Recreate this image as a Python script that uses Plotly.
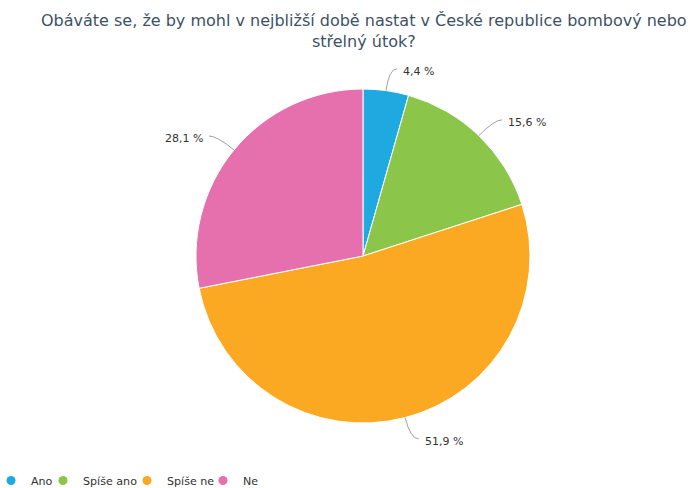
import math
import plotly.graph_objects as go

categories = ["Ano", "Spíše ano", "Spíše ne", "Ne"]
values = [4.4, 15.6, 51.9, 28.1]
colors = ["#1eaae1", "#8bc54a", "#fba922", "#e66fad"]
label_texts = ["4,4 %", "15,6 %", "51,9 %", "28,1 %"]
legend_widths = [16, 48, 40, 20]

W, H = 690, 488
MB = 30                      # bottom margin (legend lives there)
PH = H - MB                  # plot-area height in px
CX, CY, R = 363, 256, 167    # pie centre / radius in px
D = 22                       # connector distance

fig = go.Figure()
fig.add_trace(go.Pie(
    labels=categories, values=values, sort=False, direction="clockwise",
    rotation=0, marker=dict(colors=colors, line=dict(color="white", width=1)),
    textinfo="none", hoverinfo="label+percent", showlegend=False,
    domain=dict(x=[(CX - R) / W, (CX + R) / W], y=[1 - (CY + R) / PH, 1 - (CY - R) / PH]),
))

for cat, col, lw in zip(categories, colors, legend_widths):
    fig.add_trace(go.Scatter(x=[None], y=[None], mode="markers", name=cat,
                             legendwidth=lw,
                             marker=dict(color=col, size=9, symbol="circle")))

def px(x, y):
    return x / W, 1 - y / PH

shapes, annotations = [], []
total = sum(values)
cum = 0
for v, txt in zip(values, label_texts):
    mid = (cum + v / 2) / total * 2 * math.pi
    cum += v
    s, c = math.sin(mid), math.cos(mid)
    x0, y0 = CX + R * s, CY - R * c
    x1, y1 = CX + (R + D) * s, CY - (R + D) * c
    side = 1 if s >= 0 else -1
    x2 = x1 + side * 8
    p0, p1, p2 = px(x0, y0), px(x1, y1), px(x2, y1)
    shapes.append(dict(type="path", xref="paper", yref="paper",
                       path=f"M {p0[0]},{p0[1]} Q {p1[0]},{p1[1]} {p2[0]},{p2[1]}",
                       line=dict(color="#a0a0a0", width=1)))
    lx, ly = px(x2 + side * 4, y1 + 3)
    annotations.append(dict(x=lx, y=ly, xref="paper", yref="paper", text=txt,
                            showarrow=False, xanchor="left" if side > 0 else "right",
                            yanchor="middle",
                            font=dict(family="DejaVu Sans", size=11, color="#333333")))

tx, ty = px(364, 9)
annotations.append(dict(
    x=tx, y=ty, xref="paper", yref="paper", showarrow=False,
    xanchor="center", yanchor="top",
    text="Obáváte se, že by mohl v nejbližší době nastat v České republice bombový nebo<br>střelný útok?",
    font=dict(family="DejaVu Sans", size=16, color="#3d5166")))

fig.update_layout(
    width=W, height=H, margin=dict(l=0, r=0, t=0, b=MB),
    paper_bgcolor="white", plot_bgcolor="white",
    xaxis=dict(visible=False), yaxis=dict(visible=False),
    shapes=shapes, annotations=annotations,
    legend=dict(orientation="h", xref="container", yref="container",
                x=0, y=22 / H, xanchor="left", yanchor="top", indentation=-9,
                font=dict(family="DejaVu Sans", size=11.1, color="#333333"),
                itemclick=False, traceorder="normal"),
)

fig.write_html("out.html", config={"displayModeBar": False},
               post_script="document.body.style.margin='0';")
